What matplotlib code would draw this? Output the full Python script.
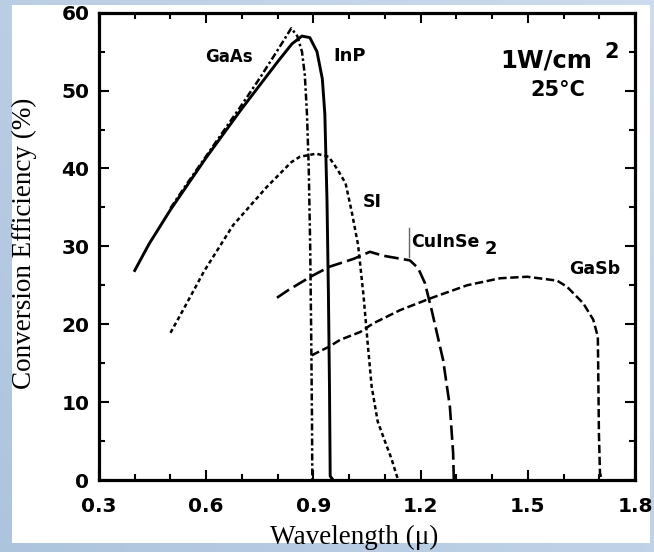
import numpy as np
import matplotlib
matplotlib.use("Agg")
import matplotlib.pyplot as plt
from matplotlib.ticker import MultipleLocator, FixedLocator
from matplotlib.patches import Rectangle

plt.rcParams['lines.scale_dashes'] = False

# ---- data (wavelength in micron, efficiency in %) ----
gaas_x = [0.50, 0.55, 0.60, 0.65, 0.70, 0.75, 0.80, 0.838, 0.855, 0.868, 0.876, 0.882, 0.887, 0.891, 0.894, 0.896, 0.897]
gaas_y = [34.9, 38.3, 41.6, 44.9, 48.2, 51.6, 55.2, 58.0, 57.0, 55.0, 52.0, 47.0, 40.0, 30.0, 18.0, 8.0, 0.0]

inp_x = [0.40, 0.44, 0.50, 0.60, 0.70, 0.80, 0.84, 0.868, 0.89, 0.91, 0.925, 0.932, 0.938, 0.942, 0.945, 0.947, 0.955]
inp_y = [26.9, 30.3, 34.7, 41.4, 47.7, 53.7, 56.0, 57.0, 56.8, 55.0, 51.5, 47.0, 36.0, 24.0, 12.0, 0.5, 0.0]

si_x = [0.50, 0.535, 0.594, 0.675, 0.769, 0.838, 0.862, 0.908, 0.943, 0.967, 0.99, 1.007, 1.025, 1.040, 1.052, 1.063, 1.080, 1.100, 1.118, 1.137]
si_y = [18.9, 21.8, 26.8, 32.7, 37.6, 40.8, 41.5, 41.9, 41.5, 39.9, 38.1, 34.5, 30.2, 23.8, 17.5, 12.0, 7.5, 5.0, 2.8, 0.0]

cis_x = [0.798, 0.827, 0.863, 0.900, 0.946, 1.013, 1.058, 1.095, 1.170, 1.193, 1.212, 1.231, 1.263, 1.282, 1.291, 1.293]
cis_y = [23.4, 24.3, 25.3, 26.3, 27.4, 28.4, 29.3, 28.8, 28.2, 27.2, 25.3, 21.8, 15.4, 9.4, 3.5, 0.0]

gasb_x = [0.895, 0.943, 0.975, 1.031, 1.067, 1.142, 1.226, 1.330, 1.422, 1.498, 1.582, 1.610, 1.655, 1.683, 1.696, 1.697, 1.699, 1.702, 1.707]
gasb_y = [16.0, 17.1, 18.0, 19.0, 20.1, 21.8, 23.3, 25.0, 25.9, 26.1, 25.6, 24.8, 22.7, 20.6, 18.4, 14.5, 6.0, 0.9, 0.0]

x_ticks = [0.3, 0.6, 0.9, 1.2, 1.5, 1.8]
x_ticklabels = ["0.3", "0.6", "0.9", "1.2", "1.5", "1.8"]
y_ticks = [0, 10, 20, 30, 40, 50, 60]

W, H = 654, 552
fig = plt.figure(figsize=(W / 100, H / 100), dpi=100)

# background (bluish frame) + white page
bg = fig.add_axes([0, 0, 1, 1], zorder=-10)
gx = np.linspace(0, 1, 200)
gy = np.linspace(0, 1, 200)
GX, GY = np.meshgrid(gx, gy)
c1 = np.array([0.68, 0.77, 0.87])
c2 = np.array([0.80, 0.86, 0.93])
t = (0.6 * GX + 0.4 * GY)[..., None]
img = c1 * (1 - t) + c2 * t
bg.imshow(img, extent=[0, 1, 0, 1], aspect='auto', origin='lower')
bg.add_patch(Rectangle((12 / W, 1 - 543 / H), (650 - 12) / W, (543 - 5) / H, facecolor='white', edgecolor='none'))
bg.set_xlim(0, 1)
bg.set_ylim(0, 1)
bg.axis('off')

left, right, top, bottom = 99, 635, 12.7, 480
ax = fig.add_axes([left / W, 1 - bottom / H, (right - left) / W, (bottom - top) / H])
ax.set_facecolor('white')

l1, = ax.plot(gaas_x, gaas_y, color='black', lw=1.8)
l1.set_dashes([5, 2, 1.8, 2])
ax.plot(inp_x, inp_y, color='black', lw=2.1, solid_joinstyle='round')
l3, = ax.plot(si_x, si_y, color='black', lw=1.8)
l3.set_dashes([3, 2.2])
l4, = ax.plot(cis_x, cis_y, color='black', lw=1.9)
l4.set_dashes([10.5, 3.8])
l5, = ax.plot(gasb_x, gasb_y, color='black', lw=1.8)
l5.set_dashes([6, 2.6])

ax.set_xlim(0.3, 1.8)
ax.set_ylim(0, 60)
ax.xaxis.set_major_locator(FixedLocator(x_ticks))
ax.set_xticklabels(x_ticklabels)
ax.xaxis.set_minor_locator(MultipleLocator(0.1))
ax.yaxis.set_major_locator(FixedLocator(y_ticks))
ax.yaxis.set_minor_locator(MultipleLocator(5))

for s in ax.spines.values():
    s.set_linewidth(2.3)

ax.tick_params(which='both', direction='in', top=True, right=True, width=1.5)
ax.tick_params(which='major', length=7)
ax.tick_params(which='minor', length=4)
ax.tick_params(axis='x', which='major', pad=12)
ax.tick_params(axis='y', which='major', pad=7)
for lab in ax.get_xticklabels() + ax.get_yticklabels():
    lab.set_fontfamily('DejaVu Sans')
    lab.set_fontweight('bold')
    lab.set_fontsize(14.5)

sans = dict(family='DejaVu Sans', fontweight='bold', color='black')
ax.text(0.665, 54.3, "GaAs", fontsize=12, ha='center', va='center', **sans)
ax.text(1.0, 54.4, "InP", fontsize=13, ha='center', va='center', **sans)
ax.text(1.064, 35.7, "SI", fontsize=12.5, ha='center', va='center', **sans)
ax.text(1.173, 30.5, "CuInSe", fontsize=12.5, ha='left', va='center', **sans)
ax.text(1.378, 29.7, "2", fontsize=13, ha='left', va='center', **sans)
ax.plot([1.168, 1.168], [28.6, 32.3], color='#666666', lw=1.0)
ax.text(1.687, 27.1, "GaSb", fontsize=12.5, ha='center', va='center', **sans)
ax.text(1.422, 53.8, "1W/cm", fontsize=17.5, ha='left', va='center', **sans)
ax.text(1.715, 54.9, "2", fontsize=15, ha='left', va='center', **sans)
ax.text(1.585, 50.1, "25°C", fontsize=15, ha='center', va='center', **sans)

fig.text(354 / W, 1 - 537 / H, "Wavelength (μ)", family='Liberation Serif', fontsize=19.5,
         ha='center', va='center')
fig.text(24 / W, 1 - 243.5 / H, "Conversion Efficiency (%)", family='Liberation Serif', fontsize=19.5,
         ha='center', va='center', rotation=90)

fig.savefig("out.png", dpi=100)
